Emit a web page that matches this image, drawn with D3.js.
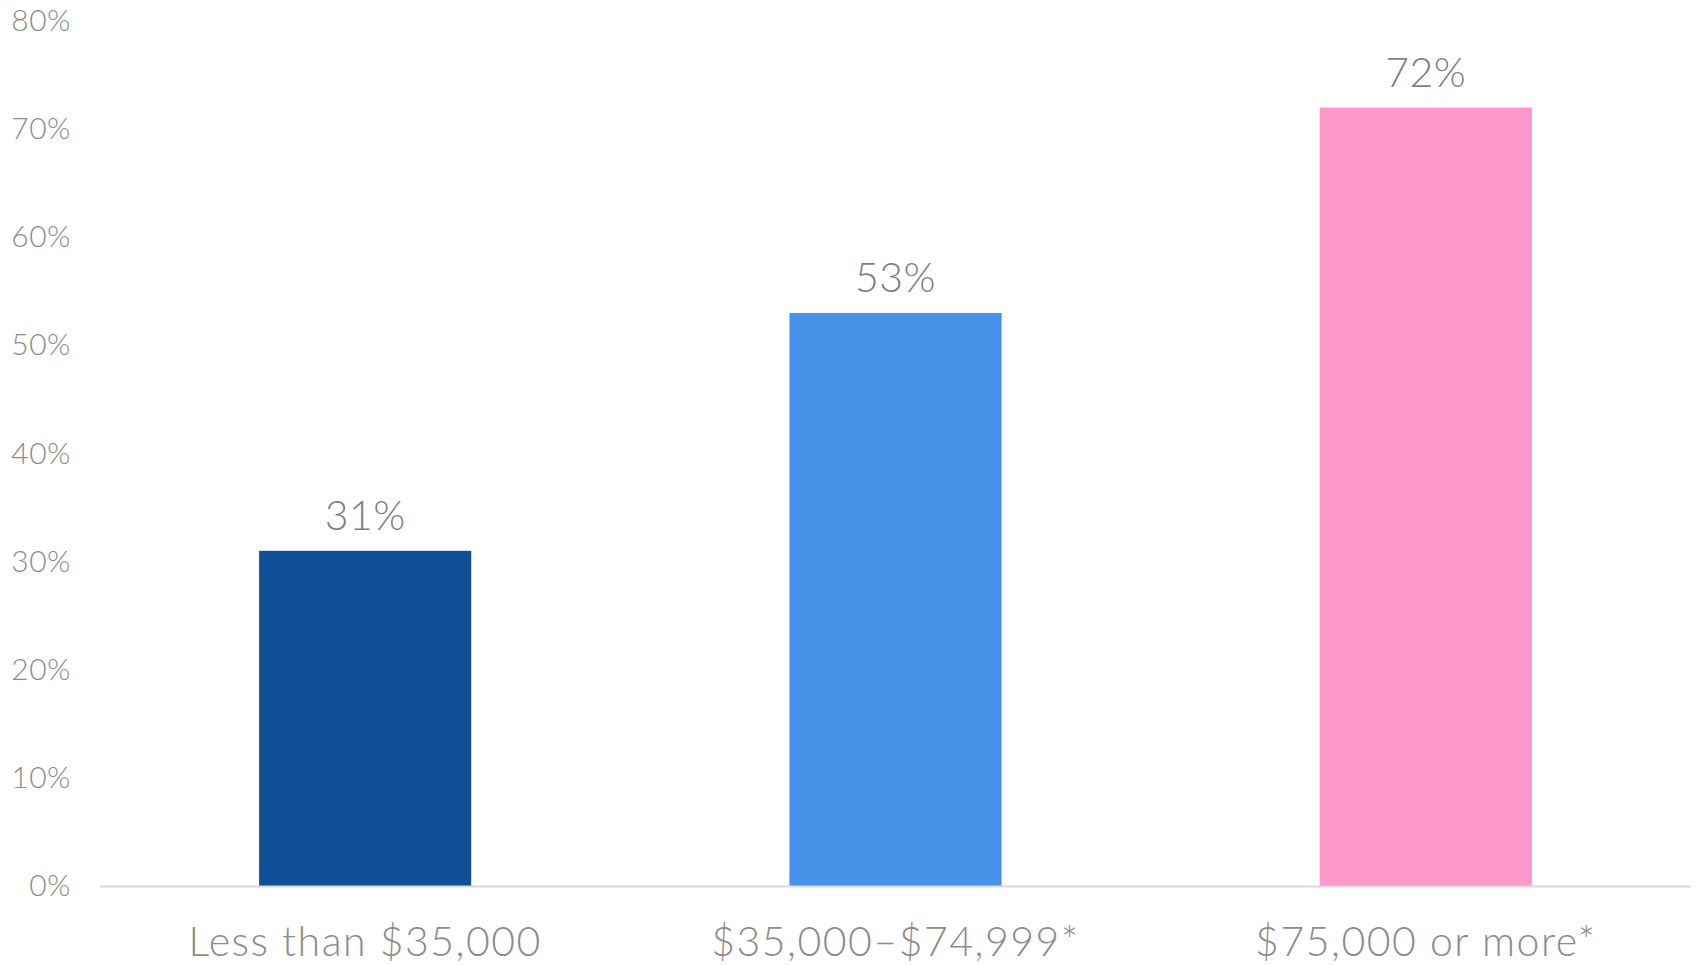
<!DOCTYPE html>
<html>
<head>
<meta charset="utf-8">
<script src="https://cdn.jsdelivr.net/npm/d3@7"></script>
<style>
  body { margin: 0; background: #fff; }
  svg { display: block; }
</style>
</head>
<body>
<svg id="chart"></svg>
<script>
const categories = ["Less than $35,000", "$35,000\u2013$74,999*", "$75,000 or more*"];
const values = [31, 53, 72];
const barColors = ["#114F96", "#4592E8", "#FF99CC"];
const yTicks = [0, 10, 20, 30, 40, 50, 60, 70, 80];

const width = 1696, height = 965;
const margin = { top: 21, right: 5, bottom: 79, left: 100 };
const fontFamily = "Lato, 'Open Sans', sans-serif";

const svg = d3.select("#chart")
  .attr("width", width)
  .attr("height", height)
  .attr("font-family", fontFamily);

const x = d3.scaleBand()
  .domain(categories)
  .range([margin.left, width - margin.right])
  .paddingInner(0.6)
  .paddingOuter(0.3);

const y = d3.scaleLinear()
  .domain([0, 80])
  .range([height - margin.bottom, margin.top]);

// y axis labels (no line, no ticks)
const yAxis = svg.append("g")
  .attr("transform", `translate(${margin.left - 29},0)`)
  .call(d3.axisLeft(y).tickValues(yTicks).tickFormat(d => d + "%").tickSize(0).tickPadding(0));
yAxis.select(".domain").remove();
yAxis.selectAll("text")
  .attr("font-family", fontFamily)
  .attr("font-size", 30)
  .attr("font-weight", 300)
  .attr("letter-spacing", 0.5)
  .attr("fill", "#8C8C8C");

// bars
svg.append("g")
  .selectAll("rect")
  .data(values)
  .join("rect")
  .attr("x", (d, i) => x(categories[i]))
  .attr("y", d => y(d))
  .attr("width", x.bandwidth())
  .attr("height", d => y(0) - y(d))
  .attr("fill", (d, i) => barColors[i]);

// baseline
svg.append("line")
  .attr("x1", margin.left)
  .attr("x2", width - margin.right)
  .attr("y1", y(0) + 0.5)
  .attr("y2", y(0) + 0.5)
  .attr("stroke", "#D9D9D9")
  .attr("stroke-width", 2);

// value labels
svg.append("g")
  .selectAll("text")
  .data(values)
  .join("text")
  .attr("x", (d, i) => x(categories[i]) + x.bandwidth() / 2)
  .attr("y", d => y(d) - 21)
  .attr("text-anchor", "middle")
  .attr("font-size", 41)
  .attr("font-weight", 300)
  .attr("letter-spacing", 0.5)
  .attr("fill", "#7F7F7F")
  .text(d => d + "%");

// category labels
svg.append("g")
  .selectAll("text")
  .data(categories)
  .join("text")
  .attr("x", d => x(d) + x.bandwidth() / 2)
  .attr("y", height - 9)
  .attr("text-anchor", "middle")
  .attr("font-size", 41)
  .attr("font-weight", 300)
  .attr("letter-spacing", 1.5)
  .attr("fill", "#8C8C8C")
  .text(d => d);
</script>
</body>
</html>
